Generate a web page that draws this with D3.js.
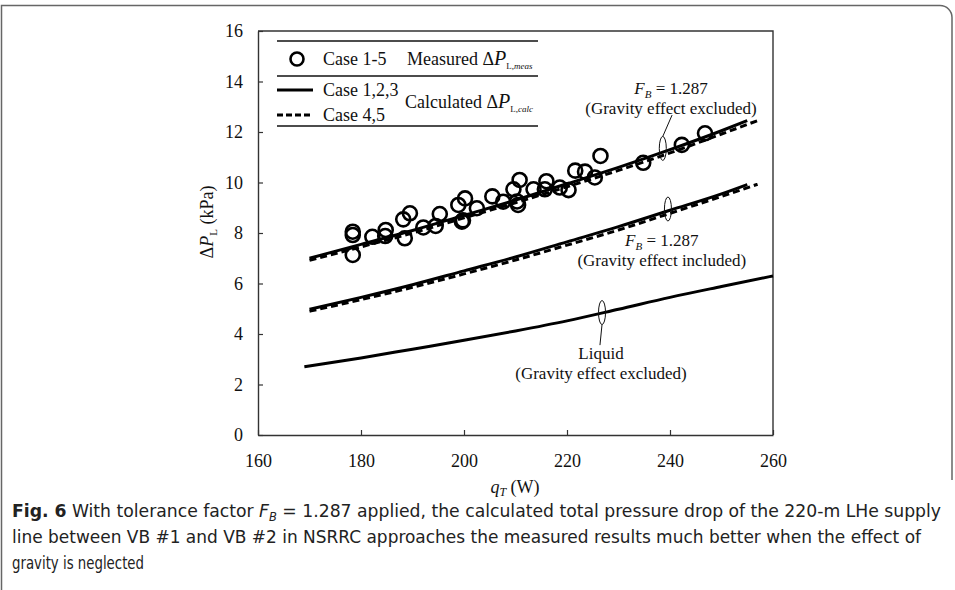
<!DOCTYPE html>
<html>
<head>
<meta charset="utf-8">
<script src="https://cdn.jsdelivr.net/npm/d3@7"></script>
<style>
  body { margin: 0; background: #fff; }
  svg { display: block; }
  .serif { font-family: "Liberation Serif", "Times New Roman", serif; fill: #111; }
  .cap { font-family: "Liberation Sans Narrow", "DejaVu Sans Condensed", sans-serif; fill: #222; }
</style>
</head>
<body>
<div class="chart"></div>
<script>
// axis ticks
var xTicks = [160, 180, 200, 220, 240, 260];
var yTicks = [0, 2, 4, 6, 8, 10, 12, 14, 16];

// measured points, case 1-5 (q_T in W, dP in kPa)
var measQ = [178.4, 178.4, 178.4, 182.2, 184.8, 184.7, 188.2, 189.5, 188.5, 192.1, 194.5, 195.3,
  198.9, 200.2, 199.6, 199.8, 202.5, 205.5, 207.6, 209.6, 210.5, 210.3, 210.8, 213.5, 215.7,
  216.0, 218.6, 220.3, 221.6, 223.5, 225.4, 226.5, 234.8, 242.3, 246.8];
var measP = [8.05, 7.92, 7.13, 7.85, 8.12, 7.88, 8.54, 8.78, 7.79, 8.22, 8.28, 8.75,
  9.11, 9.37, 8.45, 8.50, 8.98, 9.45, 9.24, 9.73, 9.11, 9.25, 10.1, 9.73, 9.73,
  10.05, 9.8, 9.7, 10.47, 10.43, 10.2, 11.05, 10.78, 11.49, 11.95];

// calculated, F_B = 1.287, gravity excluded
var exclQ = [170, 180, 190, 200, 210, 220, 230, 240, 250, 255];
var exclSolid = [7.0, 7.55, 8.1, 8.7, 9.3, 9.95, 10.6, 11.3, 12.05, 12.45];
var exclDashQ = [170, 180, 190, 200, 210, 220, 230, 240, 250, 257];
var exclDash = [6.92, 7.45, 8.0, 8.6, 9.2, 9.83, 10.48, 11.17, 11.92, 12.45];

// calculated, F_B = 1.287, gravity included
var inclQ = [170, 180, 190, 200, 210, 220, 230, 240, 250, 255];
var inclSolid = [4.98, 5.45, 5.95, 6.5, 7.05, 7.65, 8.25, 8.9, 9.55, 9.92];
var inclDashQ = [170, 180, 190, 200, 210, 220, 230, 240, 250, 257];
var inclDash = [4.9, 5.36, 5.85, 6.38, 6.93, 7.52, 8.12, 8.78, 9.45, 9.93];

// liquid only, gravity excluded
var liqQ = [169, 180, 190, 200, 210, 220, 230, 240, 250, 260];
var liqP = [2.7, 3.05, 3.4, 3.75, 4.12, 4.52, 4.98, 5.45, 5.88, 6.3];

// annotation ovals (q, dP)
var ovalQ = [238.6, 239.6, 226.8];
var ovalP = [11.35, 8.95, 4.85];

var svgWidth = 955;
var svgHeight = 590;

var svg = d3.select(".chart")
  .append("svg")
  .attr("width", svgWidth)
  .attr("height", svgHeight);

// figure frame
svg.append("path")
  .attr("d", "M1.5,590 V5.5 H940 A12,12 0 0 1 952,17.5 V480")
  .attr("fill", "none")
  .attr("stroke", "#666")
  .attr("stroke-width", 1.5);

var x = d3.scaleLinear().domain([160, 260]).range([258, 773]);
var y = d3.scaleLinear().domain([0, 16]).range([435, 31]);

// axes, ticks pointing in
var bottomAxis = d3.axisBottom(x).tickValues(xTicks).tickSizeInner(-5).tickSizeOuter(0).tickPadding(19);
var leftAxis = d3.axisLeft(y).tickValues(yTicks).tickSizeInner(-5).tickSizeOuter(0).tickPadding(15);

var gx = svg.append("g").attr("transform", `translate(0, ${y(0)})`).call(bottomAxis);
var gy = svg.append("g").attr("transform", `translate(${x(160)}, 0)`).call(leftAxis);
[gx, gy].forEach(function(g) {
  g.selectAll("text").attr("class", "serif").attr("font-size", 18).attr("fill", "#111");
  g.selectAll("line").attr("stroke", "#333").attr("stroke-width", 1.2);
  g.select(".domain").attr("stroke", "#333").attr("stroke-width", 1.4);
});

// top and right border of plot area
svg.append("path")
  .attr("d", `M${x(160)},${y(16)} H${x(260)} V${y(0)}`)
  .attr("fill", "none")
  .attr("stroke", "#333")
  .attr("stroke-width", 1.4);

var line = d3.line().x(d => x(d[0])).y(d => y(d[1])).curve(d3.curveMonotoneX);
function pairs(qs, ps) { return qs.map((q, i) => [q, ps[i]]); }

var curves = [
  { d: pairs(liqQ, liqP), dash: null },
  { d: pairs(inclQ, inclSolid), dash: null },
  { d: pairs(inclDashQ, inclDash), dash: "7,4" },
  { d: pairs(exclQ, exclSolid), dash: null },
  { d: pairs(exclDashQ, exclDash), dash: "7,4" }
];
svg.append("g").selectAll("path")
  .data(curves)
  .enter()
  .append("path")
  .attr("d", c => line(c.d))
  .attr("fill", "none")
  .attr("stroke", "#000")
  .attr("stroke-width", 3)
  .attr("stroke-dasharray", c => c.dash);

// measured circles
svg.append("g").selectAll("circle")
  .data(pairs(measQ, measP))
  .enter()
  .append("circle")
  .attr("cx", d => x(d[0]))
  .attr("cy", d => y(d[1]))
  .attr("r", 7)
  .attr("fill", "none")
  .attr("stroke", "#000")
  .attr("stroke-width", 2.6);

// ovals marking the curves
svg.append("g").selectAll("ellipse")
  .data(pairs(ovalQ, ovalP))
  .enter()
  .append("ellipse")
  .attr("cx", d => x(d[0]))
  .attr("cy", d => y(d[1]))
  .attr("rx", 3.5)
  .attr("ry", 12)
  .attr("fill", "none")
  .attr("stroke", "#111")
  .attr("stroke-width", 1);

// leader lines
svg.append("line")
  .attr("x1", x(240.4)).attr("y1", y(12.67))
  .attr("x2", x(ovalQ[0])).attr("y2", y(ovalP[0]) - 12)
  .attr("stroke", "#111").attr("stroke-width", 1);
svg.append("line")
  .attr("x1", x(ovalQ[2])).attr("y1", y(ovalP[2]) + 12)
  .attr("x2", x(226.4)).attr("y2", y(3.56))
  .attr("stroke", "#111").attr("stroke-width", 1);

// annotation texts
function fbLabel(q, p) {
  var t = svg.append("text").attr("class", "serif").attr("font-size", 17)
    .attr("x", x(q)).attr("y", y(p)).attr("text-anchor", "middle");
  t.append("tspan").attr("font-style", "italic").text("F");
  t.append("tspan").attr("font-style", "italic").attr("font-size", 11).attr("dy", 4).text("B");
  t.append("tspan").attr("dy", -4).text(" = 1.287");
}
function plainLabel(q, p, s) {
  svg.append("text").attr("class", "serif").attr("font-size", 17)
    .attr("x", x(q)).attr("y", y(p)).attr("text-anchor", "middle").text(s);
}
fbLabel(240.2, 13.5);
plainLabel(240.2, 12.71, "(Gravity effect excluded)");
fbLabel(238.4, 7.49);
plainLabel(238.4, 6.69, "(Gravity effect included)");
plainLabel(226.6, 3.01, "Liquid");
plainLabel(226.6, 2.22, "(Gravity effect excluded)");

// axis titles
var xt = svg.append("text").attr("class", "serif").attr("font-size", 18)
  .attr("x", 515).attr("y", 493).attr("text-anchor", "middle");
xt.append("tspan").attr("font-style", "italic").text("q");
xt.append("tspan").attr("font-style", "italic").attr("font-size", 12).attr("dy", 3).text("T");
xt.append("tspan").attr("dy", -3).text(" (W)");

var yt = svg.append("text").attr("class", "serif").attr("font-size", 18)
  .attr("transform", "translate(213, 222) rotate(-90)").attr("text-anchor", "middle");
yt.append("tspan").text("Δ");
yt.append("tspan").attr("font-style", "italic").text("P");
yt.append("tspan").attr("font-size", 11).attr("dy", 4).text("L");
yt.append("tspan").attr("dy", -4).text("  (kPa)");

// legend
var lg = svg.append("g");
[41, 76, 126].forEach(function(ly) {
  lg.append("line").attr("x1", 277).attr("x2", 538).attr("y1", ly).attr("y2", ly)
    .attr("stroke", "#111").attr("stroke-width", 1.5);
});
lg.append("circle").attr("cx", 297).attr("cy", 59).attr("r", 6.5)
  .attr("fill", "none").attr("stroke", "#000").attr("stroke-width", 2.6);
lg.append("line").attr("x1", 277).attr("x2", 313).attr("y1", 90).attr("y2", 90)
  .attr("stroke", "#000").attr("stroke-width", 3);
lg.append("line").attr("x1", 277).attr("x2", 313).attr("y1", 115).attr("y2", 115)
  .attr("stroke", "#000").attr("stroke-width", 3).attr("stroke-dasharray", "6,3");
[["Case 1-5", 65], ["Case 1,2,3", 96], ["Case 4,5", 121]].forEach(function(r) {
  lg.append("text").attr("class", "serif").attr("font-size", 18)
    .attr("x", 323).attr("y", r[1]).text(r[0]);
});
function dpLabel(tx, ty, word, sub) {
  var t = lg.append("text").attr("class", "serif").attr("font-size", 18).attr("x", tx).attr("y", ty);
  t.append("tspan").text(word + "  Δ");
  t.append("tspan").attr("font-style", "italic").attr("font-size", 20).text("P");
  t.append("tspan").attr("font-size", 9).attr("dy", 4).text("L,");
  t.append("tspan").attr("font-size", 9).attr("font-style", "italic").text(sub);
}
dpLabel(407, 65, "Measured", "meas");
dpLabel(405, 108, "Calculated", "calc");

// caption
var c1 = svg.append("text").attr("class", "cap").attr("font-size", 18)
  .attr("x", 12).attr("y", 517).attr("textLength", 929).attr("lengthAdjust", "spacingAndGlyphs");
c1.append("tspan").attr("font-weight", "bold").text("Fig. 6");
c1.append("tspan").text("  With tolerance factor ");
c1.append("tspan").attr("font-style", "italic").text("F");
c1.append("tspan").attr("font-style", "italic").attr("font-size", 12).attr("dy", 4).text("B");
c1.append("tspan").attr("dy", -4).text(" = 1.287 applied, the calculated total pressure drop of the 220-m LHe supply");

svg.append("text").attr("class", "cap").attr("font-size", 18)
  .attr("x", 12).attr("y", 543).attr("textLength", 909).attr("lengthAdjust", "spacingAndGlyphs")
  .text("line between VB #1 and VB #2 in NSRRC approaches the measured results much better when the effect of");
svg.append("text").attr("class", "cap").attr("font-size", 18)
  .attr("x", 12).attr("y", 569).attr("textLength", 132).attr("lengthAdjust", "spacingAndGlyphs")
  .text("gravity is neglected");
</script>
</body>
</html>
